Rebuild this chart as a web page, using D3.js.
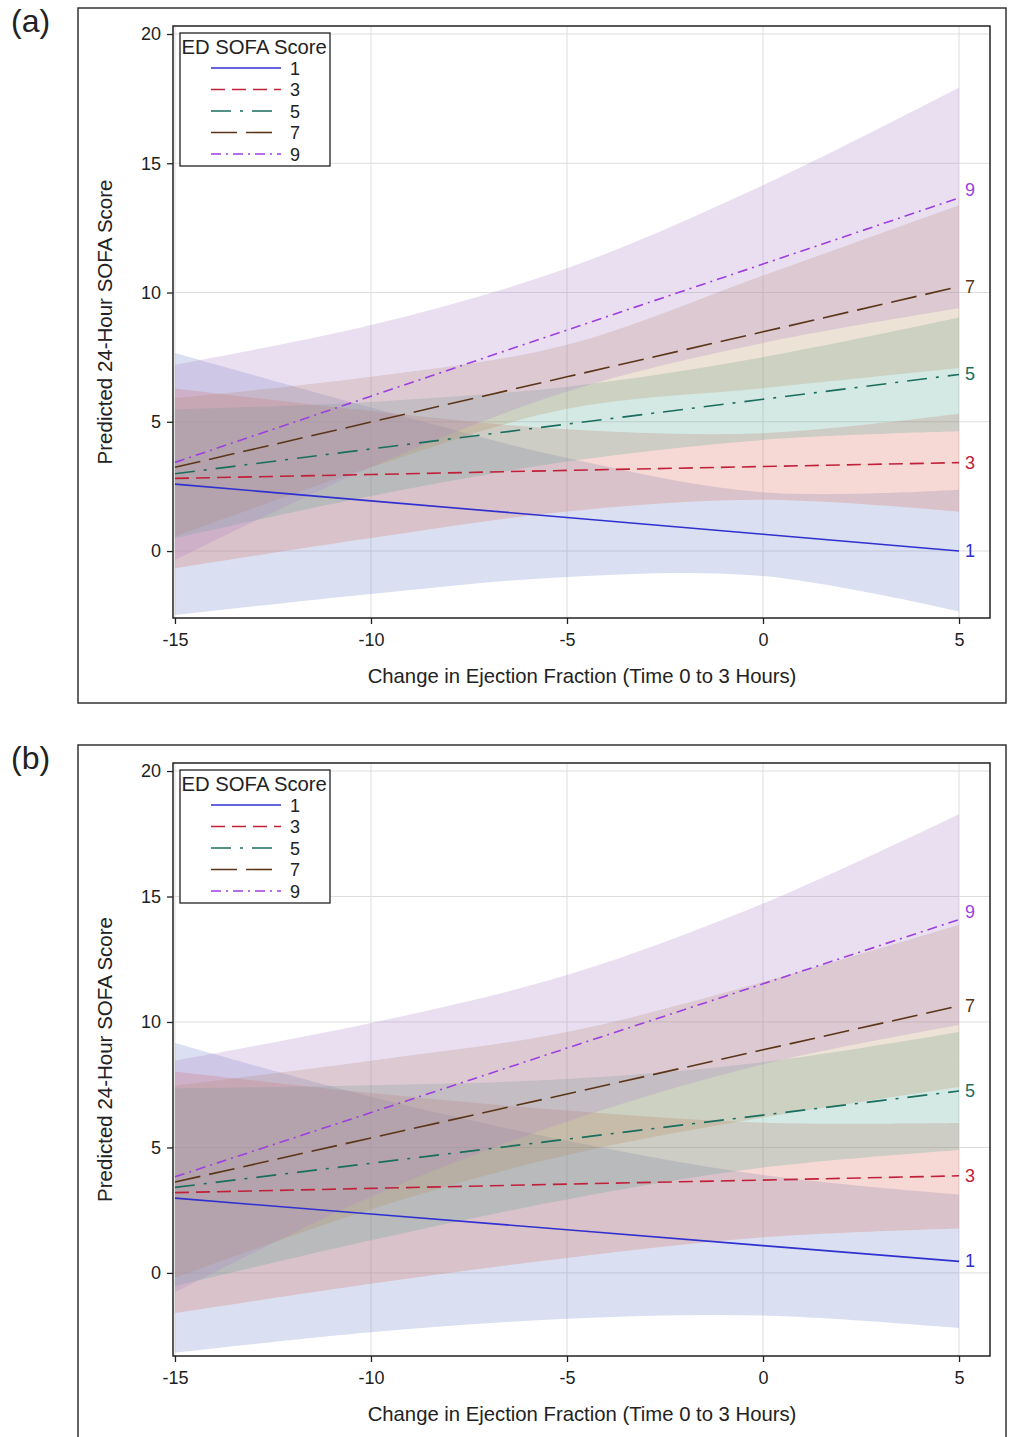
<!DOCTYPE html>
<html>
<head>
<meta charset="utf-8">
<script src="https://cdn.jsdelivr.net/npm/d3@7"></script>
<style>
  body { margin: 0; background: #fff; }
  text { font-family: "Liberation Sans", Arial, sans-serif; fill: #222; }
  .grid line { stroke: #dddddd; stroke-width: 1; }
  .axis path { display: none; }
  .axis line { stroke: #222; stroke-width: 1.3; }
</style>
</head>
<body>
<svg id="fig" width="1011" height="1437"></svg>
<script>
const efChange = [-15, -10, -5, 0, 5];
const sofaLevels = ["1", "3", "5", "7", "9"];
const xTicks = [-15, -10, -5, 0, 5];
const yTicks = [0, 5, 10, 15, 20];

// panel (a): predicted 24-hour SOFA, one row per ED SOFA level
const predA = [
  [2.59, 1.94, 1.30, 0.65, 0.00],
  [2.81, 2.96, 3.12, 3.27, 3.42],
  [2.99, 3.95, 4.91, 5.87, 6.83],
  [3.24, 4.99, 6.74, 8.48, 10.23],
  [3.43, 5.99, 8.55, 11.10, 13.66]
];
const lowerA = [
  [-2.48, -1.66, -1.00, -0.97, -2.34],
  [-0.67, 0.50, 1.53, 1.98, 1.52],
  [0.50, 2.13, 3.46, 4.30, 4.63],
  [0.56, 3.24, 5.50, 6.30, 7.08],
  [-0.35, 3.24, 6.17, 8.05, 9.39]
];
const upperA = [
  [7.66, 5.55, 3.60, 2.27, 2.37],
  [6.29, 5.42, 4.71, 4.56, 5.31],
  [5.48, 5.77, 6.36, 7.50, 9.03],
  [5.92, 6.74, 7.98, 10.66, 13.38],
  [7.21, 8.74, 10.94, 14.15, 17.93]
];

// panel (b)
const predB = [
  [2.98, 2.35, 1.72, 1.09, 0.46],
  [3.20, 3.37, 3.54, 3.70, 3.87],
  [3.41, 4.37, 5.33, 6.29, 7.25],
  [3.62, 5.38, 7.13, 8.89, 10.64],
  [3.83, 6.39, 8.96, 11.52, 14.08]
];
const lowerB = [
  [-3.18, -2.36, -1.83, -1.70, -2.20],
  [-1.60, -0.43, 0.60, 1.42, 1.77],
  [-0.52, 1.30, 2.93, 4.20, 4.90],
  [-0.20, 2.54, 4.70, 6.19, 7.41],
  [-0.78, 3.04, 6.03, 8.32, 9.88]
];
const upperB = [
  [9.16, 7.02, 5.27, 3.90, 3.12],
  [8.03, 7.17, 6.47, 5.98, 5.97],
  [7.36, 7.48, 7.73, 8.40, 9.60],
  [7.46, 8.46, 9.60, 11.59, 13.87],
  [8.46, 9.96, 11.87, 14.72, 18.28]
];

const lineStyles = [
  { color: "#3030d0", band: "#6f87c7", dash: null },
  { color: "#c0203a", band: "#db6b5b", dash: "14,7" },
  { color: "#1a6e5e", band: "#57a797", dash: "20,9,3,9" },
  { color: "#5b3518", band: "#b78f5b", dash: "26,9" },
  { color: "#9d3fe0", band: "#af83c7", dash: "10,5,2,5" }
];

class SofaPlot {
  constructor(_config, _data) {
    this.config = {
      parentElement: _config.parentElement,
      left: 173,
      right: 990,
      top: _config.top,
      bottom: _config.bottom,
      xDomain: [-15.05, 5.79],
      yDomain: _config.yDomain,
      tag: _config.tag
    };
    this.data = _data;
    this.initVis();
  }

  initVis() {
    let vis = this;
    const c = vis.config;

    vis.svg = d3.select(c.parentElement);
    vis.g = vis.svg.append("g");

    vis.xScale = d3.scaleLinear().domain(c.xDomain).range([c.left, c.right]);
    vis.yScale = d3.scaleLinear().domain(c.yDomain).range([c.bottom, c.top]);

    // outer panel frame
    vis.g.append("rect")
      .attr("x", 78).attr("y", c.top - 18)
      .attr("width", 928).attr("height", c.bottom - c.top + 103)
      .attr("fill", "none").attr("stroke", "#333").attr("stroke-width", 1.5);

    vis.g.append("text")
      .attr("x", 11).attr("y", c.top + 6)
      .style("font-size", "32px")
      .text(c.tag);

    // gridlines
    vis.g.append("g").attr("class", "grid")
      .selectAll("line").data(yTicks).join("line")
      .attr("x1", c.left).attr("x2", c.right)
      .attr("y1", d => vis.yScale(d)).attr("y2", d => vis.yScale(d));
    vis.g.append("g").attr("class", "grid")
      .selectAll("line").data(xTicks).join("line")
      .attr("y1", c.top).attr("y2", c.bottom)
      .attr("x1", d => vis.xScale(d)).attr("x2", d => vis.xScale(d));

    vis.updateVis();
  }

  updateVis() {
    let vis = this;

    vis.series = sofaLevels.map((level, i) => ({
      level,
      style: lineStyles[i],
      values: efChange.map((x, j) => ({
        x,
        pred: vis.data.pred[i][j],
        lo: vis.data.lower[i][j],
        hi: vis.data.upper[i][j]
      }))
    }));

    vis.renderVis();
  }

  renderVis() {
    let vis = this;
    const c = vis.config;

    const area = d3.area()
      .x(d => vis.xScale(d.x))
      .y0(d => vis.yScale(d.lo))
      .y1(d => vis.yScale(d.hi))
      .curve(d3.curveCatmullRom.alpha(0.5));

    const line = d3.line()
      .x(d => vis.xScale(d.x))
      .y(d => vis.yScale(d.pred));

    vis.g.append("g").selectAll("path")
      .data(vis.series).join("path")
      .attr("d", d => area(d.values))
      .attr("fill", d => d.style.band)
      .attr("fill-opacity", 0.26);

    vis.g.append("g").selectAll("path")
      .data(vis.series).join("path")
      .attr("d", d => line(d.values))
      .attr("fill", "none")
      .attr("stroke", d => d.style.color)
      .attr("stroke-width", 1.6)
      .attr("stroke-dasharray", d => d.style.dash);

    // curve labels at the right end
    const nudge = { "9": -8 };
    vis.g.append("g").selectAll("text")
      .data(vis.series).join("text")
      .attr("x", d => vis.xScale(5) + 6)
      .attr("y", d => vis.yScale(d.values[d.values.length - 1].pred) + 6 + (nudge[d.level] || 0))
      .style("font-size", "18px")
      .style("fill", d => d.style.color)
      .text(d => d.level);

    // plot frame
    vis.g.append("rect")
      .attr("x", c.left).attr("y", c.top)
      .attr("width", c.right - c.left).attr("height", c.bottom - c.top)
      .attr("fill", "none").attr("stroke", "#222").attr("stroke-width", 1.5);

    // axes (plain hyphen for negatives, as in the original)
    const yAxis = d3.axisLeft(vis.yScale).tickValues(yTicks).tickSize(6).tickPadding(6)
      .tickFormat(d => String(d));
    const xAxis = d3.axisBottom(vis.xScale).tickValues(xTicks).tickSize(6).tickPadding(9)
      .tickFormat(d => String(d));

    vis.g.append("g").attr("class", "axis")
      .attr("transform", `translate(${c.left},0)`)
      .call(yAxis)
      .selectAll("text").style("font-size", "18px").style("font-family", "Liberation Sans, Arial, sans-serif");
    vis.g.append("g").attr("class", "axis")
      .attr("transform", `translate(0,${c.bottom})`)
      .call(xAxis)
      .selectAll("text").style("font-size", "18px").style("font-family", "Liberation Sans, Arial, sans-serif");

    vis.g.append("text")
      .attr("transform", `translate(112,${(c.top + c.bottom) / 2}) rotate(-90)`)
      .attr("text-anchor", "middle")
      .style("font-size", "20.5px")
      .text("Predicted 24-Hour SOFA Score");

    vis.g.append("text")
      .attr("x", 582)
      .attr("y", c.bottom + 65)
      .attr("text-anchor", "middle")
      .style("font-size", "20.3px")
      .text("Change in Ejection Fraction (Time 0 to 3 Hours)");

    // legend
    const lg = vis.g.append("g").attr("transform", `translate(180,${c.top + 7})`);
    lg.append("rect")
      .attr("width", 150).attr("height", 133)
      .attr("fill", "#fff").attr("stroke", "#222").attr("stroke-width", 1.3);
    lg.append("text")
      .attr("x", 1.5).attr("y", 21)
      .style("font-size", "20.3px")
      .text("ED SOFA Score");
    const rows = lg.selectAll(".entry")
      .data(vis.series).join("g")
      .attr("class", "entry")
      .attr("transform", (d, i) => `translate(0,${35 + i * 21.5})`);
    rows.append("line")
      .attr("x1", 31).attr("x2", 101)
      .attr("stroke", d => d.style.color)
      .attr("stroke-width", 1.6)
      .attr("stroke-dasharray", d => d.style.dash);
    rows.append("text")
      .attr("x", 110).attr("y", 6.5)
      .style("font-size", "18px")
      .text(d => d.level);
  }
}

new SofaPlot(
  { parentElement: "#fig", top: 26, bottom: 618, yDomain: [-2.59, 20.31], tag: "(a)" },
  { pred: predA, lower: lowerA, upper: upperA }
);
new SofaPlot(
  { parentElement: "#fig", top: 763, bottom: 1356, yDomain: [-3.31, 20.32], tag: "(b)" },
  { pred: predB, lower: lowerB, upper: upperB }
);
</script>
</body>
</html>
